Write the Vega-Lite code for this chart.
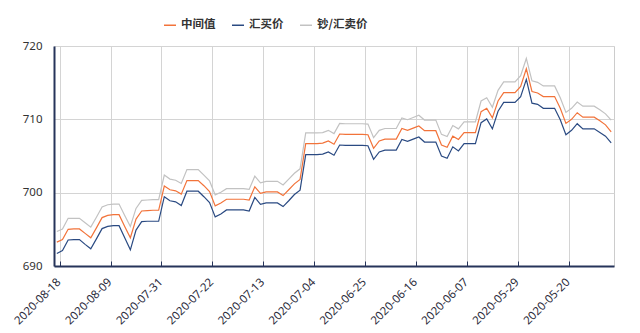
{
  "$schema": "https://vega.github.io/schema/vega-lite/v6.json",
  "width": 560,
  "height": 220,
  "autosize": {"type": "none"},
  "padding": {"left": 54, "top": 46, "right": 26, "bottom": 67},
  "background": "white",
  "config": {"view": {"stroke": "#cccccc"}, "font": "Noto Sans"},
  "data": {"values": [
    {"d": "2020-08-18", "中间值": 693.25, "汇买价": 691.7, "钞/汇卖价": 694.7},
    {"d": "2020-08-17", "中间值": 693.6, "汇买价": 692.1, "钞/汇卖价": 695.05},
    {"d": "2020-08-16", "中间值": 695.0, "汇买价": 693.55, "钞/汇卖价": 696.5},
    {"d": "2020-08-15", "中间值": 695.05, "汇买价": 693.6, "钞/汇卖价": 696.5},
    {"d": "2020-08-14", "中间值": 695.05, "汇买价": 693.6, "钞/汇卖价": 696.5},
    {"d": "2020-08-13", "中间值": 694.45, "汇买价": 692.95, "钞/汇卖价": 695.9},
    {"d": "2020-08-12", "中间值": 693.85, "汇买价": 692.35, "钞/汇卖价": 695.3},
    {"d": "2020-08-11", "中间值": 695.2, "汇买价": 693.7, "钞/汇卖价": 696.65},
    {"d": "2020-08-10", "中间值": 696.6, "汇买价": 695.1, "钞/汇卖价": 698.05},
    {"d": "2020-08-09", "中间值": 696.9, "汇买价": 695.4, "钞/汇卖价": 698.35},
    {"d": "2020-08-08", "中间值": 697.0, "汇买价": 695.5, "钞/汇卖价": 698.45},
    {"d": "2020-08-07", "中间值": 697.0, "汇买价": 695.5, "钞/汇卖价": 698.45},
    {"d": "2020-08-06", "中间值": 695.4, "汇买价": 693.85, "钞/汇卖价": 696.9},
    {"d": "2020-08-05", "中间值": 693.85, "汇买价": 692.2, "钞/汇卖价": 695.4},
    {"d": "2020-08-04", "中间值": 696.4, "汇买价": 694.9, "钞/汇卖价": 697.85},
    {"d": "2020-08-03", "中间值": 697.5, "汇买价": 696.05, "钞/汇卖价": 698.95},
    {"d": "2020-08-02", "中间值": 697.55, "汇买价": 696.1, "钞/汇卖价": 699.0},
    {"d": "2020-08-01", "中间值": 697.6, "汇买价": 696.1, "钞/汇卖价": 699.05},
    {"d": "2020-07-31", "中间值": 697.6, "汇买价": 696.1, "钞/汇卖价": 699.05},
    {"d": "2020-07-30", "中间值": 700.9, "汇买价": 699.45, "钞/汇卖价": 702.4},
    {"d": "2020-07-29", "中间值": 700.4, "汇买价": 698.9, "钞/汇卖价": 701.85},
    {"d": "2020-07-28", "中间值": 700.25, "汇买价": 698.75, "钞/汇卖价": 701.7},
    {"d": "2020-07-27", "中间值": 699.8, "汇买价": 698.25, "钞/汇卖价": 701.25},
    {"d": "2020-07-26", "中间值": 701.65, "汇买价": 700.2, "钞/汇卖价": 703.15},
    {"d": "2020-07-25", "中间值": 701.65, "汇买价": 700.2, "钞/汇卖价": 703.15},
    {"d": "2020-07-24", "中间值": 701.65, "汇买价": 700.2, "钞/汇卖价": 703.15},
    {"d": "2020-07-23", "中间值": 700.95, "汇买价": 699.45, "钞/汇卖价": 702.4},
    {"d": "2020-07-22", "中间值": 700.15, "汇买价": 698.65, "钞/汇卖价": 701.6},
    {"d": "2020-07-21", "中间值": 698.2, "汇买价": 696.7, "钞/汇卖价": 699.7},
    {"d": "2020-07-20", "中间值": 698.6, "汇买价": 697.1, "钞/汇卖价": 700.05},
    {"d": "2020-07-19", "中间值": 699.1, "汇买价": 697.65, "钞/汇卖价": 700.55},
    {"d": "2020-07-18", "中间值": 699.1, "汇买价": 697.65, "钞/汇卖价": 700.55},
    {"d": "2020-07-17", "中间值": 699.1, "汇买价": 697.65, "钞/汇卖价": 700.55},
    {"d": "2020-07-16", "中间值": 699.1, "汇买价": 697.65, "钞/汇卖价": 700.55},
    {"d": "2020-07-15", "中间值": 699.0, "汇买价": 697.5, "钞/汇卖价": 700.45},
    {"d": "2020-07-14", "中间值": 700.8, "汇买价": 699.35, "钞/汇卖价": 702.25},
    {"d": "2020-07-13", "中间值": 699.9, "汇买价": 698.4, "钞/汇卖价": 701.35},
    {"d": "2020-07-12", "中间值": 700.1, "汇买价": 698.6, "钞/汇卖价": 701.55},
    {"d": "2020-07-11", "中间值": 700.1, "汇买价": 698.6, "钞/汇卖价": 701.55},
    {"d": "2020-07-10", "中间值": 700.1, "汇买价": 698.6, "钞/汇卖价": 701.55},
    {"d": "2020-07-09", "中间值": 699.6, "汇买价": 698.1, "钞/汇卖价": 701.05},
    {"d": "2020-07-08", "中间值": 700.4, "汇买价": 698.9, "钞/汇卖价": 701.85},
    {"d": "2020-07-07", "中间值": 701.2, "汇买价": 699.75, "钞/汇卖价": 702.65},
    {"d": "2020-07-06", "中间值": 701.8, "汇买价": 700.35, "钞/汇卖价": 703.25},
    {"d": "2020-07-05", "中间值": 706.7, "汇买价": 705.2, "钞/汇卖价": 708.15},
    {"d": "2020-07-04", "中间值": 706.7, "汇买价": 705.2, "钞/汇卖价": 708.15},
    {"d": "2020-07-03", "中间值": 706.7, "汇买价": 705.2, "钞/汇卖价": 708.15},
    {"d": "2020-07-02", "中间值": 706.75, "汇买价": 705.25, "钞/汇卖价": 708.2},
    {"d": "2020-07-01", "中间值": 707.05, "汇买价": 705.55, "钞/汇卖价": 708.5},
    {"d": "2020-06-30", "中间值": 706.6, "汇买价": 705.1, "钞/汇卖价": 708.05},
    {"d": "2020-06-29", "中间值": 708.0, "汇买价": 706.5, "钞/汇卖价": 709.45},
    {"d": "2020-06-28", "中间值": 707.95, "汇买价": 706.45, "钞/汇卖价": 709.4},
    {"d": "2020-06-27", "中间值": 707.95, "汇买价": 706.45, "钞/汇卖价": 709.4},
    {"d": "2020-06-26", "中间值": 707.95, "汇买价": 706.45, "钞/汇卖价": 709.4},
    {"d": "2020-06-25", "中间值": 707.95, "汇买价": 706.45, "钞/汇卖价": 709.4},
    {"d": "2020-06-24", "中间值": 707.9, "汇买价": 706.4, "钞/汇卖价": 709.35},
    {"d": "2020-06-23", "中间值": 706.05, "汇买价": 704.55, "钞/汇卖价": 707.5},
    {"d": "2020-06-22", "中间值": 707.05, "汇买价": 705.55, "钞/汇卖价": 708.5},
    {"d": "2020-06-21", "中间值": 707.3, "汇买价": 705.8, "钞/汇卖价": 708.75},
    {"d": "2020-06-20", "中间值": 707.3, "汇买价": 705.8, "钞/汇卖价": 708.75},
    {"d": "2020-06-19", "中间值": 707.3, "汇买价": 705.8, "钞/汇卖价": 708.75},
    {"d": "2020-06-18", "中间值": 708.75, "汇买价": 707.25, "钞/汇卖价": 710.2},
    {"d": "2020-06-17", "中间值": 708.5, "汇买价": 707.0, "钞/汇卖价": 709.95},
    {"d": "2020-06-16", "中间值": 708.8, "汇买价": 707.3, "钞/汇卖价": 710.25},
    {"d": "2020-06-15", "中间值": 709.1, "汇买价": 707.6, "钞/汇卖价": 710.55},
    {"d": "2020-06-14", "中间值": 708.45, "汇买价": 706.9, "钞/汇卖价": 709.9},
    {"d": "2020-06-13", "中间值": 708.45, "汇买价": 706.9, "钞/汇卖价": 709.9},
    {"d": "2020-06-12", "中间值": 708.45, "汇买价": 706.9, "钞/汇卖价": 709.9},
    {"d": "2020-06-11", "中间值": 706.5, "汇买价": 705.0, "钞/汇卖价": 707.95},
    {"d": "2020-06-10", "中间值": 706.2, "汇买价": 704.7, "钞/汇卖价": 707.65},
    {"d": "2020-06-09", "中间值": 707.7, "汇买价": 706.25, "钞/汇卖价": 709.15},
    {"d": "2020-06-08", "中间值": 707.25, "汇买价": 705.7, "钞/汇卖价": 708.7},
    {"d": "2020-06-07", "中间值": 708.2, "汇买价": 706.7, "钞/汇卖价": 709.65},
    {"d": "2020-06-06", "中间值": 708.2, "汇买价": 706.7, "钞/汇卖价": 709.65},
    {"d": "2020-06-05", "中间值": 708.2, "汇买价": 706.7, "钞/汇卖价": 709.65},
    {"d": "2020-06-04", "中间值": 711.05, "汇买价": 709.55, "钞/汇卖价": 712.5},
    {"d": "2020-06-03", "中间值": 711.5, "汇买价": 710.05, "钞/汇卖价": 712.95},
    {"d": "2020-06-02", "中间值": 710.2, "汇买价": 708.7, "钞/汇卖价": 711.65},
    {"d": "2020-06-01", "中间值": 712.5, "汇买价": 711.1, "钞/汇卖价": 713.95},
    {"d": "2020-05-31", "中间值": 713.65, "汇买价": 712.3, "钞/汇卖价": 715.1},
    {"d": "2020-05-30", "中间值": 713.65, "汇买价": 712.3, "钞/汇卖价": 715.1},
    {"d": "2020-05-29", "中间值": 713.65, "汇买价": 712.3, "钞/汇卖价": 715.1},
    {"d": "2020-05-28", "中间值": 714.5, "汇买价": 713.1, "钞/汇卖价": 715.95},
    {"d": "2020-05-27", "中间值": 716.9, "汇买价": 715.45, "钞/汇卖价": 718.3},
    {"d": "2020-05-26", "中间值": 713.8, "汇买价": 712.2, "钞/汇卖价": 715.25},
    {"d": "2020-05-25", "中间值": 713.6, "汇买价": 712.05, "钞/汇卖价": 715.05},
    {"d": "2020-05-24", "中间值": 713.1, "汇买价": 711.5, "钞/汇卖价": 714.55},
    {"d": "2020-05-23", "中间值": 713.1, "汇买价": 711.5, "钞/汇卖价": 714.55},
    {"d": "2020-05-22", "中间值": 713.1, "汇买价": 711.5, "钞/汇卖价": 714.55},
    {"d": "2020-05-21", "中间值": 711.5, "汇买价": 709.95, "钞/汇卖价": 712.95},
    {"d": "2020-05-20", "中间值": 709.45, "汇买价": 707.9, "钞/汇卖价": 710.95},
    {"d": "2020-05-19", "中间值": 710.0, "汇买价": 708.5, "钞/汇卖价": 711.5},
    {"d": "2020-05-18", "中间值": 710.9, "汇买价": 709.4, "钞/汇卖价": 712.35},
    {"d": "2020-05-17", "中间值": 710.3, "汇买价": 708.7, "钞/汇卖价": 711.8},
    {"d": "2020-05-16", "中间值": 710.3, "汇买价": 708.7, "钞/汇卖价": 711.8},
    {"d": "2020-05-15", "中间值": 710.3, "汇买价": 708.7, "钞/汇卖价": 711.8},
    {"d": "2020-05-14", "中间值": 709.8, "汇买价": 708.2, "钞/汇卖价": 711.3},
    {"d": "2020-05-13", "中间值": 709.25, "汇买价": 707.7, "钞/汇卖价": 710.75},
    {"d": "2020-05-12", "中间值": 708.3, "汇买价": 706.8, "钞/汇卖价": 709.9}
  ]},
  "transform": [{"fold": ["中间值", "汇买价", "钞/汇卖价"], "as": ["series", "value"]}],
  "mark": {"type": "line", "strokeWidth": 1.2},
  "encoding": {
    "x": {
      "field": "d", "type": "ordinal", "sort": "descending",
      "scale": {"type": "point", "padding": 0.5},
      "axis": {
        "title": null,
        "values": ["2020-08-18", "2020-08-09", "2020-07-31", "2020-07-22", "2020-07-13", "2020-07-04", "2020-06-25", "2020-06-16", "2020-06-07", "2020-05-29", "2020-05-20"],
        "labelAngle": -45, "labelOverlap": false,
        "tickOffset": 2.83, "labelOffset": -5,
        "grid": true, "gridColor": "#d4d4d4", "gridWidth": 1,
        "domainColor": "#26345a", "domainWidth": 2,
        "tickColor": "#26345a", "tickSize": -5,
        "labelFont": "Noto Sans", "labelFontSize": 11.5, "labelColor": "#2b2b3b", "labelPadding": 15
      }
    },
    "y": {
      "field": "value", "type": "quantitative",
      "scale": {"domain": [690, 720], "nice": false, "zero": false},
      "axis": {
        "title": null, "values": [690, 700, 710, 720], "ticks": false, "labelPadding": 12,
        "gridColor": "#d4d4d4", "domainColor": "#26345a", "domainWidth": 2,
        "labelFont": "Noto Sans", "labelFontSize": 11.5, "labelColor": "#333333"
      }
    },
    "color": {
      "field": "series", "type": "nominal",
      "scale": {"domain": ["中间值", "汇买价", "钞/汇卖价"], "range": ["#f2733a", "#2a4a82", "#c2c2c2"]},
      "legend": {
        "title": null, "orient": "none", "legendX": 109, "legendY": -28, "direction": "horizontal",
        "symbolType": "stroke", "symbolSize": 144, "symbolStrokeWidth": 1.5,
        "labelFont": "Noto Sans CJK SC", "labelFontSize": 11.5, "labelFontWeight": "bold", "labelColor": "#333333",
        "labelOffset": 4, "columnPadding": 13
      }
    }
  }
}
